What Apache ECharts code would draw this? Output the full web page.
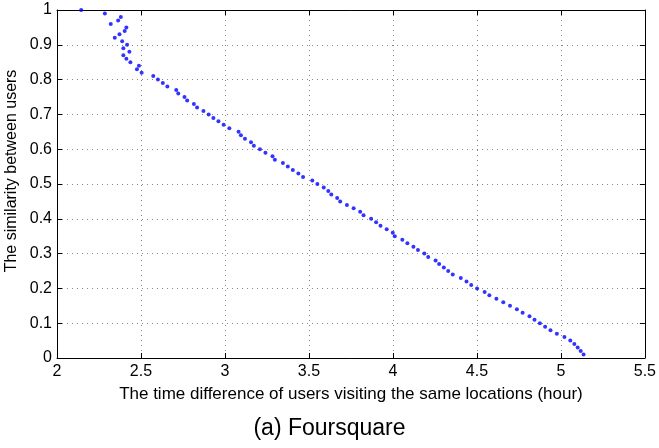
<!DOCTYPE html>
<html>
<head>
<meta charset="utf-8">
<script src="https://cdn.jsdelivr.net/npm/echarts@6/dist/echarts.min.js"></script>
<style>
  html, body { margin: 0; padding: 0; background: #fff; }
  #chart { width: 659px; height: 448px; }
</style>
</head>
<body>
<div id="chart"></div>
<script>
// time difference (hour) of each point
const timeDiff = [
  2.144, 2.285, 2.380, 2.364, 2.320, 2.413, 2.403, 2.372, 2.344, 2.388,
  2.417, 2.395, 2.431, 2.395, 2.413, 2.437, 2.488, 2.476, 2.504, 2.573,
  2.601, 2.630, 2.657, 2.710, 2.722, 2.759, 2.775, 2.815, 2.834, 2.872,
  2.903, 2.931, 2.961, 2.992, 3.026, 3.081, 3.095, 3.119, 3.155, 3.172,
  3.208, 3.241, 3.283, 3.297, 3.345, 3.374, 3.404, 3.437, 3.465, 3.520,
  3.550, 3.588, 3.615, 3.633, 3.668, 3.686, 3.726, 3.766, 3.805, 3.825,
  3.870, 3.900, 3.926, 3.963, 3.999, 4.011, 4.056, 4.086, 4.122, 4.149,
  4.187, 4.210, 4.254, 4.275, 4.303, 4.329, 4.356, 4.404, 4.438, 4.466,
  4.501, 4.546, 4.574, 4.616, 4.657, 4.697, 4.738, 4.772, 4.813, 4.843,
  4.875, 4.906, 4.938, 4.976, 5.021, 5.056, 5.080, 5.100, 5.118, 5.135
];
// similarity of each point
const similarity = [
  1.00, 0.99, 0.98, 0.97, 0.96, 0.95, 0.94, 0.93, 0.92, 0.91,
  0.90, 0.89, 0.88, 0.87, 0.86, 0.85, 0.84, 0.83, 0.82, 0.81,
  0.80, 0.79, 0.78, 0.77, 0.76, 0.75, 0.74, 0.73, 0.72, 0.71,
  0.70, 0.69, 0.68, 0.67, 0.66, 0.65, 0.64, 0.63, 0.62, 0.61,
  0.60, 0.59, 0.58, 0.57, 0.56, 0.55, 0.54, 0.53, 0.52, 0.51,
  0.50, 0.49, 0.48, 0.47, 0.46, 0.45, 0.44, 0.43, 0.42, 0.41,
  0.40, 0.39, 0.38, 0.37, 0.36, 0.35, 0.34, 0.33, 0.32, 0.31,
  0.30, 0.29, 0.28, 0.27, 0.26, 0.25, 0.24, 0.23, 0.22, 0.21,
  0.20, 0.19, 0.18, 0.17, 0.16, 0.15, 0.14, 0.13, 0.12, 0.11,
  0.10, 0.09, 0.08, 0.07, 0.06, 0.05, 0.04, 0.03, 0.02, 0.01
];

const xLabel = 'The time difference of users visiting the same locations (hour)';
const yLabel = 'The similarity between users';
const caption = '(a) Foursquare';

const font = '"Liberation Sans", Arial, Helvetica, sans-serif';
const points = timeDiff.map((x, i) => [x, similarity[i]]);

const chart = echarts.init(document.getElementById('chart'));

// matlab style: black box, ticks inside on all four sides, dotted grid
const gridLine = { show: true, lineStyle: { color: '#888', width: 1, type: [1, 4] } };
const boxLine = { show: true, onZero: false, lineStyle: { color: '#000', width: 1 } };
const tick = { show: true, inside: true, length: 5, lineStyle: { color: '#000' } };

const option = {
    animation: false,
    backgroundColor: '#fff',
    title: {
        text: caption,
        left: 'center',
        top: 412,
        textStyle: { fontFamily: font, fontSize: 23, fontWeight: 'normal', color: '#000' }
    },
    grid: { left: 57, right: 10, top: 10, bottom: 90 },
    xAxis: [{
        type: 'value', min: 2, max: 5.5, interval: 0.5,
        name: xLabel, nameLocation: 'middle', nameGap: 28,
        nameTextStyle: { fontFamily: font, fontSize: 17, color: '#000' },
        axisLine: boxLine, axisTick: tick, splitLine: gridLine,
        axisLabel: { margin: 6, fontFamily: font, fontSize: 16, color: '#000',
                     showMinLabel: true, showMaxLabel: true }
    }, {
        type: 'value', position: 'top', min: 2, max: 5.5, interval: 0.5,
        axisLine: boxLine, axisTick: tick, splitLine: { show: false },
        axisLabel: { show: false }
    }],
    yAxis: [{
        type: 'value', min: 0, max: 1, interval: 0.1,
        axisLine: boxLine, axisTick: tick, splitLine: gridLine,
        axisLabel: { margin: 5, fontFamily: font, fontSize: 16, color: '#000',
                     showMinLabel: true, showMaxLabel: true }
    }, {
        type: 'value', position: 'right', min: 0, max: 1, interval: 0.1,
        axisLine: boxLine, axisTick: tick, splitLine: { show: false },
        axisLabel: { show: false }
    }],
    graphic: [{
        type: 'text',
        x: 12, y: 171,
        rotation: Math.PI / 2,
        style: {
            text: yLabel, fontFamily: font, fontSize: 16, fill: '#000',
            align: 'center', verticalAlign: 'middle'
        }
    }],
    series: [{
        type: 'scatter',
        data: points,
        symbol: 'circle',
        symbolSize: 4,
        itemStyle: { color: '#0000ff' }
    }]
};

chart.setOption(option);
</script>
</body>
</html>
